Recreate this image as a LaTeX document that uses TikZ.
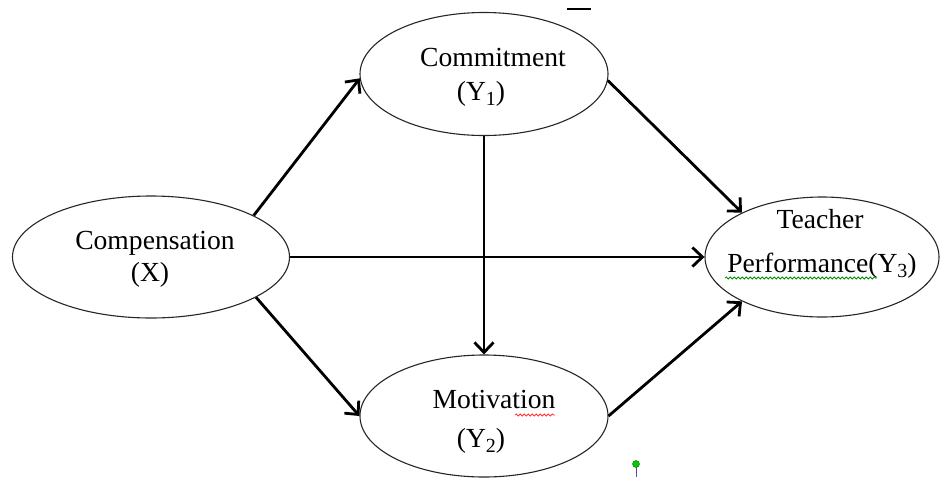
\documentclass[tikz,border=0pt]{standalone}
\usepackage{fontspec}
\setmainfont{Liberation Serif}
\usetikzlibrary{shapes.geometric,arrows.meta,decorations.pathmorphing}
\newcommand{\lsub}[1]{\raisebox{-0.4ex}{\fontsize{20}{20}\selectfont #1}}
\begin{document}
\begin{tikzpicture}[x=1pt,y=-1pt,
  oval/.style={ellipse,draw=black!85,line width=1.1pt,inner sep=0pt},
  lbl/.style={anchor=base,inner sep=0pt,font=\fontsize{27.6}{33}\selectfont},
  arr/.style={line width=2.8pt,-{Straight Barb[length=10pt,width=19pt]}},
  wavy/.style={decorate,decoration={snake,amplitude=1.1pt,segment length=4pt},line width=0.8pt}]
\useasboundingbox (0,0) rectangle (943,477);
% ellipses
\node[oval,minimum width=248pt,minimum height=123pt] (c1) at (484,74) {};
\node[oval,minimum width=277pt,minimum height=122pt] (comp) at (151,257) {};
\node[oval,minimum width=234pt,minimum height=120pt] (tp) at (822,257) {};
\node[oval,minimum width=248pt,minimum height=122pt] (mo) at (484,416) {};
% labels
\node[lbl] (t1) at (493,66) {Commitment};
\node[lbl] (t1b) at (481,100) {(Y\lsub{1})};
\node[lbl] (t2) at (155,249) {Compensation};
\node[lbl] (t2b) at (150,281) {(X)};
\node[lbl] (t3) at (820,228) {Teacher};
\node[lbl] (t3b) at (822,272) {Performance(Y\lsub{3})};
\node[lbl] (t4) at (494,408) {Motivation};
\node[lbl] (t4b) at (481,447) {(Y\lsub{2})};
% connectors
\draw[arr] (comp.22.4) -- (c1.182);
\draw[arr] (comp.-21.9) -- (mo.west);
\draw[arr] (comp.east) -- (tp.west);
\draw[arr] (c1.south) -- (mo.north);
\draw[arr] (c1.-3) -- (tp.151);
\draw[arr] (mo.east) -- (tp.209);
% screenshot marks
\draw[wavy,green!55!black] (725,278) -- (877,278);
\draw[wavy,red!80] (515,415) -- (555,415);
\draw[line width=1.2pt] (567,9) -- (591,9);
\draw[blue!40!gray,line width=1pt] (636,467) -- (636,477);
\fill[green!80!black,draw=green!40!black,line width=0.4pt] (636,464) circle (3.5);
\end{tikzpicture}
\end{document}
